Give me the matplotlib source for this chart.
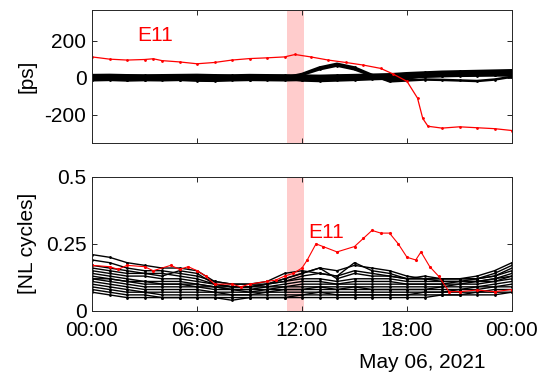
import numpy as np
import matplotlib
matplotlib.use("Agg")
import matplotlib.pyplot as plt

plt.rcParams["font.family"] = ["Liberation Sans", "DejaVu Sans"]
plt.rcParams["axes.unicode_minus"] = False

# hourly sample times (hours of May 06, 2021)
hrs = list(range(25))

# top panel: clock offsets [ps], black stations
top_black = [
    [6, 4, 7, 5, 3, 4, 2, 3, 5, 4, 6, 5, 3, 4, 6, 5, 8, 12, 18, 22, 25, 27, 28, 30, 32],
    [-6, -7, -4, -8, -5, -6, -9, -5, -4, -6, -5, -3, -5, -4, -2, 0, 3, 8, 12, 15, 18, 20, 22, 24, 25],
    [14, 15, 13, 12, 13, 14, 15, 13, 12, 14, 13, 12, 11, 10, 12, 14, 16, 18, 24, 28, 32, 34, 36, 38, 40],
    [-14, -12, -15, -13, -14, -12, -16, -17, -14, -12, -13, -14, -12, -10, -8, -6, -4, 0, 3, 6, 8, 10, 11, 12, 12],
    [0, 1, -1, 0, 2, 1, 0, -1, 1, 0, 2, 1, 0, 2, 3, 4, 5, 6, 8, 10, 12, 14, 15, 17, 18],
    [2, 0, -2, 1, 0, -1, 0, 1, 2, 1, 0, 0, 20, 55, 75, 55, 15, -20, -15, -10, -12, -15, -18, -10, 5],
    [0, 1, 0, -1, 1, 0, 2, 0, 1, 0, 1, 0, 15, 45, 65, 45, 10, -15, -5, 10, 15, 18, 20, 22, 24],
    [-3, -2, -4, -3, -2, -3, -4, -3, -2, -3, -2, -3, -15, -18, -15, -12, -8, -5, 0, 6, 10, 14, 16, 20, 22],
    [9, 8, 10, 9, 8, 9, 10, 8, 9, 8, 9, 10, 8, 7, 9, 10, 12, 15, 20, 24, 28, 30, 31, 33, 34],
    [-10, -9, -11, -10, -9, -10, -11, -10, -9, -10, -9, -8, -7, -8, -6, -5, -3, 2, 6, 10, 13, 15, 17, 19, 20],
]

# top panel: station E11
e11_top_t = [0, 1, 2, 3, 3.5, 4, 5, 6, 7, 8, 9, 10, 11, 11.6, 12.5, 13.5, 14.5, 15.5, 16.5,
             17.2, 18.0, 18.6, 18.9, 19.2, 20, 21, 22, 23, 24]
e11_top_v = [112, 100, 95, 98, 102, 92, 85, 75, 82, 95, 103, 107, 112, 125, 112, 95, 82, 68, 50,
             20, -20, -110, -220, -262, -272, -265, -270, -275, -285]

# bottom panel: NL residuals [cycles], black stations
bot_black = [
    [0.21, 0.20, 0.18, 0.17, 0.16, 0.16, 0.15, 0.11, 0.10, 0.10, 0.11, 0.14, 0.15, 0.14, 0.13, 0.18, 0.15, 0.14, 0.12, 0.12, 0.12, 0.12, 0.13, 0.15, 0.18],
    [0.19, 0.18, 0.16, 0.15, 0.15, 0.14, 0.13, 0.11, 0.10, 0.10, 0.10, 0.12, 0.14, 0.16, 0.12, 0.14, 0.13, 0.13, 0.12, 0.13, 0.12, 0.12, 0.12, 0.14, 0.17],
    [0.17, 0.16, 0.15, 0.14, 0.14, 0.13, 0.12, 0.10, 0.09, 0.09, 0.10, 0.11, 0.12, 0.12, 0.11, 0.12, 0.12, 0.12, 0.11, 0.11, 0.11, 0.11, 0.12, 0.13, 0.15],
    [0.15, 0.14, 0.13, 0.13, 0.12, 0.12, 0.11, 0.10, 0.09, 0.09, 0.09, 0.10, 0.11, 0.11, 0.10, 0.11, 0.11, 0.11, 0.10, 0.10, 0.10, 0.11, 0.11, 0.12, 0.14],
    [0.14, 0.13, 0.12, 0.11, 0.11, 0.11, 0.10, 0.09, 0.08, 0.08, 0.09, 0.09, 0.10, 0.10, 0.10, 0.10, 0.10, 0.10, 0.10, 0.10, 0.10, 0.10, 0.11, 0.11, 0.13],
    [0.13, 0.12, 0.11, 0.10, 0.10, 0.10, 0.09, 0.09, 0.08, 0.08, 0.08, 0.09, 0.09, 0.09, 0.09, 0.09, 0.09, 0.09, 0.09, 0.09, 0.09, 0.10, 0.10, 0.11, 0.12],
    [0.12, 0.11, 0.10, 0.09, 0.09, 0.09, 0.09, 0.08, 0.08, 0.07, 0.08, 0.08, 0.08, 0.09, 0.08, 0.09, 0.08, 0.08, 0.08, 0.08, 0.09, 0.09, 0.09, 0.10, 0.11],
    [0.11, 0.10, 0.09, 0.08, 0.08, 0.08, 0.08, 0.07, 0.07, 0.07, 0.07, 0.08, 0.08, 0.08, 0.08, 0.08, 0.08, 0.08, 0.08, 0.08, 0.08, 0.08, 0.09, 0.09, 0.10],
    [0.10, 0.09, 0.08, 0.07, 0.07, 0.07, 0.07, 0.07, 0.06, 0.06, 0.07, 0.07, 0.07, 0.07, 0.07, 0.07, 0.07, 0.07, 0.07, 0.07, 0.07, 0.08, 0.08, 0.09, 0.09],
    [0.09, 0.08, 0.07, 0.07, 0.06, 0.06, 0.06, 0.06, 0.06, 0.06, 0.06, 0.06, 0.06, 0.07, 0.06, 0.06, 0.06, 0.06, 0.06, 0.07, 0.07, 0.07, 0.07, 0.08, 0.08],
    [0.08, 0.07, 0.06, 0.06, 0.05, 0.05, 0.05, 0.05, 0.05, 0.05, 0.05, 0.05, 0.06, 0.06, 0.06, 0.06, 0.06, 0.06, 0.06, 0.06, 0.06, 0.06, 0.07, 0.07, 0.07],
    [0.07, 0.06, 0.05, 0.05, 0.05, 0.05, 0.05, 0.05, 0.04, 0.05, 0.05, 0.05, 0.05, 0.05, 0.05, 0.05, 0.05, 0.05, 0.05, 0.05, 0.06, 0.06, 0.06, 0.06, 0.07],
    [0.12, 0.12, 0.11, 0.11, 0.10, 0.10, 0.10, 0.09, 0.09, 0.09, 0.10, 0.12, 0.14, 0.16, 0.15, 0.17, 0.16, 0.15, 0.13, 0.12, 0.11, 0.11, 0.11, 0.12, 0.13],
    [0.16, 0.15, 0.14, 0.14, 0.13, 0.15, 0.14, 0.10, 0.09, 0.09, 0.10, 0.11, 0.13, 0.14, 0.13, 0.15, 0.14, 0.13, 0.12, 0.12, 0.12, 0.12, 0.12, 0.13, 0.16],
]

# bottom panel: station E11
e11_bot_t = [0, 1, 1.5, 2, 3, 3.5, 4.5, 5, 5.5, 6, 6.5, 7, 8, 8.5, 9, 10, 10.5, 11, 11.5, 12,
             12.3, 12.8, 13.2, 14, 15, 15.5, 16, 16.5, 17, 17.5, 18, 18.5, 18.8, 19.3, 19.8, 20.4,
             21, 22, 23, 24]
e11_bot_v = [0.17, 0.165, 0.155, 0.17, 0.165, 0.15, 0.17, 0.155, 0.165, 0.15, 0.13, 0.10, 0.10, 0.09, 0.10,
             0.11, 0.115, 0.13, 0.14, 0.16, 0.19, 0.25, 0.24, 0.22, 0.24, 0.27, 0.30, 0.29, 0.29, 0.25,
             0.20, 0.19, 0.22, 0.165, 0.13, 0.072, 0.072, 0.078, 0.072, 0.08]

shade = (11.15, 12.1)
xticks = [0, 6, 12, 18, 24]
xlabels = ["00:00", "06:00", "12:00", "18:00", "00:00"]

fig = plt.figure(figsize=(5.45, 3.77), dpi=100)
ax1 = fig.add_axes([92 / 545, 1 - 143.5 / 377, 420 / 545, 133.5 / 377])
ax2 = fig.add_axes([92 / 545, 1 - 311 / 377, 420 / 545, 134.3 / 377])

for ax in (ax1, ax2):
    ax.axvspan(shade[0], shade[1], color="#ffcccc", lw=0, zorder=0)
    ax.set_xlim(0, 24)
    ax.set_xticks(xticks)
    ax.tick_params(direction="in", top=True, right=True, length=3.6, width=0.7,
                   labelsize=15, colors="#262626", labelcolor="black")
    ax.tick_params(axis="y", pad=4)
    ax.tick_params(axis="x", pad=7)
    for s in ax.spines.values():
        s.set_color("#262626")
        s.set_linewidth(0.7)

for y in top_black:
    ax1.plot(hrs, y, color="black", lw=1.8, marker=".", ms=2)
ax1.plot(e11_top_t, e11_top_v, color="red", lw=0.9, marker=".", ms=2)
ax1.set_ylim(-355, 365)
ax1.set_yticks([-200, 0, 200])
ax1.set_xticklabels([])
ax1.set_ylabel("[ps]", fontsize=15)
ax1.yaxis.set_label_coords(-0.131, 0.5)
ax1.text(2.57, 225, "E11", color="red", fontsize=15, va="center")

for y in bot_black:
    ax2.plot(hrs, y, color="black", lw=1.0, marker=".", ms=2)
ax2.plot(e11_bot_t, e11_bot_v, color="red", lw=0.8, marker=".", ms=2.5)
ax2.set_ylim(0, 0.5)
ax2.set_yticks([0, 0.25, 0.5])
ax2.set_yticklabels(["0", "0.25", "0.5"])
ax2.set_xticklabels(xlabels)
ax2.set_ylabel("[NL cycles]", fontsize=15)
ax2.yaxis.set_label_coords(-0.131, 0.5)
ax2.text(12.34, 0.292, "E11", color="red", fontsize=15, va="center")

fig.text(422 / 545, 1 - 362 / 377, "May 06, 2021", fontsize=15, ha="center", va="center")

fig.savefig("out.png", dpi=100)
